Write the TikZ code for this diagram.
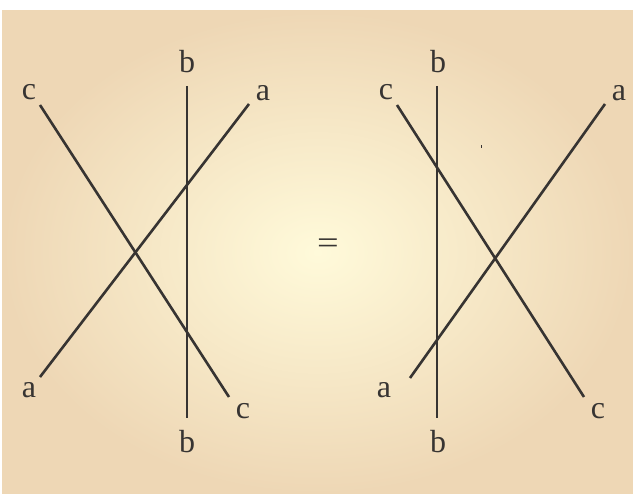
\documentclass[tikz,border=0pt]{standalone}
\usepackage{fontspec}
\setmainfont{Liberation Serif}
\usetikzlibrary{calc}
\definecolor{bgedge}{RGB}{238,215,181}
\definecolor{bgcenter}{RGB}{255,250,218}
\definecolor{strand}{RGB}{55,52,50}
\tikzset{
  strandline/.style={draw=strand, line width=2.6pt},
  lbl/.style={text=strand, inner sep=0pt, font=\fontsize{32}{32}\selectfont},
}
\begin{document}
\begin{tikzpicture}[x=1pt,y=-1pt]
\useasboundingbox (0,0) rectangle (633,494);
\shade[inner color=bgcenter, outer color=bgedge] (2,11) rectangle (633,494);
% left diagram
\coordinate (Lbt) at (187,86);
\coordinate (Lbb) at (187,418);
\coordinate (Lct) at (40,105);
\coordinate (Lcb) at (229,397);
\coordinate (Lat) at (249,104);
\coordinate (Lab) at (40,377);
\draw[strandline] (Lbt) -- (Lbb);
\draw[strandline] (Lct) -- (Lcb);
\draw[strandline] (Lat) -- (Lab);
\node[lbl] (lb1) at (187,62) {b};
\node[lbl] (lb2) at (187,442) {b};
\node[lbl] (lc1) at (29,92) {c};
\node[lbl] (lc2) at (243,411) {c};
\node[lbl] (la1) at (263,93) {a};
\node[lbl] (la2) at (29,390) {a};
% equals
\node[lbl, xscale=1.2] (eq) at (328,246) {=};
% right diagram
\coordinate (Rbt) at (437,86);
\coordinate (Rbb) at (437,418);
\coordinate (Rct) at (397,105);
\coordinate (Rcb) at (584,397);
\coordinate (Rat) at (605,104);
\coordinate (Rab) at (410,378);
\draw[strandline] (Rbt) -- (Rbb);
\draw[strandline] (Rct) -- (Rcb);
\draw[strandline] (Rat) -- (Rab);
\node[lbl] (rb1) at (438,62) {b};
\node[lbl] (rb2) at (438,442) {b};
\node[lbl] (rc1) at (386,92) {c};
\node[lbl] (rc2) at (598,411) {c};
\node[lbl] (ra1) at (619,93) {a};
\node[lbl] (ra2) at (384,390) {a};
% tiny speck
\fill[strand] (480.5,145.5) rectangle (481.5,148.5);
\end{tikzpicture}
\end{document}
